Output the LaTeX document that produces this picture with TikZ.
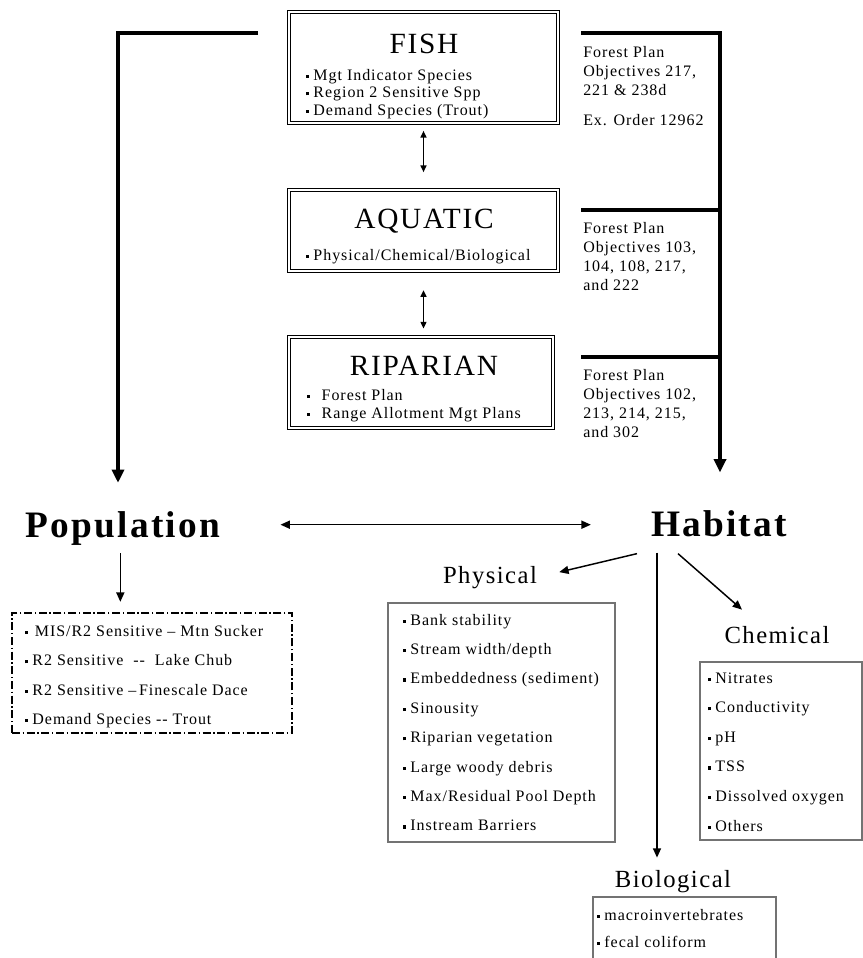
\documentclass[tikz,border=0pt]{standalone}
\usepackage{fontspec}
\setmainfont{Liberation Serif}[LetterSpace=6]
\usetikzlibrary{arrows.meta,fit}
\newcommand\bul{\raisebox{0.3ex}{\rule{0.2em}{0.2em}}\hspace{0.25em}}
\begin{document}
\begin{tikzpicture}[x=0.75pt,y=-0.75pt,line join=miter,
  thickline/.style={line width=2.8pt},
  bigarrow/.style={line width=2.8pt,-{Triangle[length=10pt,width=9pt]}},
  thinarrow/.style={line width=1.1pt,-{Triangle[length=7pt,width=6pt]}},
  thindbl/.style={line width=1.1pt,{Triangle[length=7pt,width=6pt]}-{Triangle[length=7pt,width=6pt]}},
  smalldbl/.style={line width=1pt,{Triangle[length=5pt,width=4.5pt]}-{Triangle[length=5pt,width=4.5pt]}},
  dbox/.style={draw,double,double distance=1.4pt,line width=0.8pt,inner sep=0pt},
  gbox/.style={draw=black!55,line width=0.8pt,inner sep=0pt},
  ddbox/.style={draw,line width=0.8pt,inner sep=0pt,dash pattern=on 6pt off 2pt on 1pt off 2pt},
  title/.style={font=\fontsize{22}{26}\selectfont,inner sep=0pt,anchor=base},
  item/.style={font=\fontsize{12}{14}\selectfont,inner sep=0pt,anchor=base west},
  sub/.style={font=\fontsize{18.5}{22}\selectfont,inner sep=0pt,anchor=base},
  big/.style={font=\fontsize{28}{32}\selectfont\bfseries,inner sep=0pt,anchor=base}]
\useasboundingbox (0,0) rectangle (863,958);

% ---- top boxes
\node[dbox,fit={(289,12) (558,123)}] (fish) {};
\node[dbox,fit={(289,190) (558,271)}] (aq) {};
\node[dbox,fit={(289,337) (553,428)}] (rip) {};

\node[title] (fisht) at (424,53) {FISH};
\node[item] (f1) at (306,80) {\bul Mgt Indicator Species};
\node[item] (f2) at (306,97.5) {\bul Region 2 Sensitive Spp};
\node[item] (f3) at (306,115) {\bul Demand Species (Trout)};

\node[title] (aqt) at (424,228) {AQUATIC};
\node[item] (a1) at (306,260) {\bul Physical/Chemical/Biological};

\node[title] (ript) at (424,375) {RIPARIAN};
\node[item] (r1) at (307,400) {\bul\hspace{0.45em}Forest Plan};
\node[item] (r2) at (307,418) {\bul\hspace{0.45em}Range Allotment Mgt Plans};

\draw[smalldbl,shorten <=5.5pt,shorten >=13pt] (fish.south) -- (aq.north);
\draw[smalldbl,shorten <=14pt,shorten >=6pt] (aq.south) -- (aq.south |- rip.north);

% ---- right labels
\node[item] (o1a) at (583,57) {Forest Plan};
\node[item] (o1b) at (583,76) {Objectives 217,};
\node[item] (o1c) at (583,95) {221 \& 238d};
\node[item] (o1d) at (583,125) {Ex. Order 12962};
\node[item] (o2a) at (583,233) {Forest Plan};
\node[item] (o2b) at (583,252) {Objectives 103,};
\node[item] (o2c) at (583,271) {104, 108, 217,};
\node[item] (o2d) at (583,290) {and 222};
\node[item] (o3a) at (583,380) {Forest Plan};
\node[item] (o3b) at (583,399) {Objectives 102,};
\node[item] (o3c) at (583,418) {213, 214, 215,};
\node[item] (o3d) at (583,437) {and 302};

% ---- Population / Habitat
\node[big] (pop) at (123,537) {Population};
\node[big] (hab) at (719,536) {Habitat};

\coordinate (lt) at (258,33);
\coordinate (lc) at (118,33);
\draw[bigarrow,shorten >=21pt] (lt) -- (lc) -- (lc |- pop.north);

\coordinate (rt) at (581,33);
\coordinate (rc) at (720,33);
\coordinate (rm1) at (581,210);
\coordinate (rm2) at (581,357);
\draw[bigarrow,shorten >=28pt] (rt) -- (rc) -- (rc |- hab.north);
\draw[thickline] (rm1) -- (rm1 -| rc);
\draw[thickline] (rm2) -- (rm2 -| rc);

\draw[thindbl,shorten <=45pt,shorten >=45pt] ([yshift=2.5pt]pop.east) -- ([yshift=2.5pt]pop.east -| hab.west);

% ---- Population list
\node[ddbox,fit={(12,613) (292,733)}] (plist) {};
\draw[thinarrow,shorten <=6pt,shorten >=8pt] ([xshift=-2pt]pop.south) -- ([xshift=-2pt]pop.south |- plist.north);
\node[item] (p1) at (25,636) {\bul\hspace{0.15em}MIS/R2 Sensitive \textendash\ Mtn Sucker};
\node[item] (p2) at (25,665.5) {\bul R2 Sensitive \ -{}- \ Lake Chub};
\node[item] (p3) at (25,695) {\bul R2 Sensitive \textendash\,Finescale Dace};
\node[item] (p4) at (25,724) {\bul Demand Species -{}- Trout};

% ---- Habitat sub-branches
\node[sub] (phy) at (490,583) {Physical};
\node[sub] (chem) at (777,643) {Chemical};
\node[sub] (bio) at (673,887) {Biological};

\draw[thinarrow] ([shift={(-82,17)}]hab.south) -- ([shift={(22,-5)}]phy.east);
\draw[thinarrow] ([shift={(-62,16)}]hab.south) -- ([shift={(-16,-12)}]bio.north);
\draw[thinarrow] ([shift={(-41,17)}]hab.south) -- ([shift={(-35,-16)}]chem.north);

% Physical box
\node[gbox,fit={(388,603) (615,842)}] (physbox) {};
\foreach \t [count=\i] in {Bank stability,Stream width/depth,Embeddedness (sediment),Sinousity,Riparian vegetation,Large woody debris,Max/Residual Pool Depth,Instream Barriers}
  \node[item] (ph\i) at (403,{625+29.4*(\i-1)}) {\bul\t};

% Chemical box
\node[gbox,fit={(700,662) (862,840)}] (chembox) {};
\foreach \t [count=\i] in {Nitrates,Conductivity,pH,TSS,Dissolved oxygen,Others}
  \node[item] (ch\i) at (708,{683+29.6*(\i-1)}) {\bul\t};

% Biological box (cut by the page edge)
\draw[draw=black!55,line width=0.8pt] (593,958) -- (593,897) -- (776,897) -- (776,958);
\node[item] (b1) at (597,920) {\bul macroinvertebrates};
\node[item] (b2) at (597,947) {\bul fecal coliform};
\end{tikzpicture}
\end{document}
